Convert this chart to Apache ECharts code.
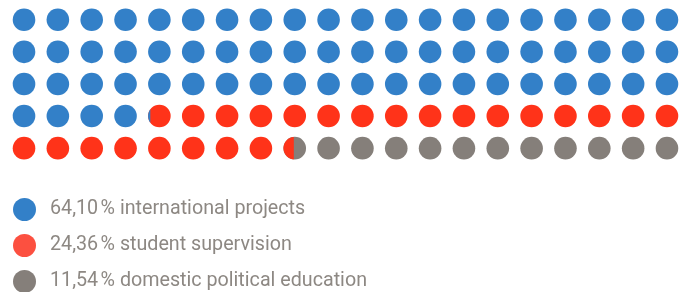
<!DOCTYPE html>
<html>
<head>
<meta charset="utf-8">
<script src="https://cdn.jsdelivr.net/npm/echarts@6/dist/echarts.min.js"></script>
<style>
  html, body { margin: 0; padding: 0; background: #fff; }
  #chart { width: 686px; height: 292px; }
</style>
</head>
<body>
<div id="chart"></div>
<script>
// shares in percent, one dot = 1 %
var categories = ['international projects', 'student supervision', 'domestic political education'];
var shareLabels = ['64,10', '24,36', '11,54'];
var shares = [64.10, 24.36, 11.54];
var dotColors = ['#3380c8', '#ff3319', '#857f7a'];
var legendColors = ['#3380c8', '#fc5040', '#857f7a'];
var columns = 20;
var rows = 5;

// each dot: [col, row, leftCat, rightCat, leftFraction]
var dots = [];
var bounds = [];
var acc = 0;
shares.forEach(function (v) { acc += v; bounds.push(acc); });
for (var i = 0; i < columns * rows; i++) {
    var start = i, end = i + 1;
    var c = 0;
    while (c < bounds.length - 1 && bounds[c] <= start) c++;
    var left = c, right = c, frac = 1;
    if (bounds[c] < end && c < bounds.length - 1) {
        right = c + 1;
        frac = bounds[c] - start;
    }
    dots.push([i % columns, Math.floor(i / columns), left, right, frac]);
}

function renderDot(params, api) {
    var p = api.coord([api.value(0), api.value(1)]);
    var r = 11.3;
    var left = api.value(2), right = api.value(3), frac = api.value(4);
    var children = [{
        type: 'circle',
        shape: { cx: p[0], cy: p[1], r: r },
        style: { fill: dotColors[right] }
    }];
    if (left !== right) {
        // left part of the dot, split by a vertical chord
        var xs = -r + frac * 2 * r;
        var t0 = Math.acos(Math.max(-1, Math.min(1, xs / r)));
        var pts = [];
        var n = 40;
        for (var k = 0; k <= n; k++) {
            var t = t0 + (2 * Math.PI - 2 * t0) * k / n;
            pts.push([p[0] + r * Math.cos(t), p[1] + r * Math.sin(t)]);
        }
        children.push({
            type: 'polygon',
            shape: { points: pts },
            style: { fill: dotColors[left] }
        });
    }
    return { type: 'group', children: children };
}

var chart = echarts.init(document.getElementById('chart'));
var legendSeries = categories.map(function (name, i) {
    return { name: name, type: 'scatter', data: [], itemStyle: { color: legendColors[i], opacity: 1 } };
});

chart.setOption({
    animation: false,
    grid: { left: 7.1, right: 2.1, top: 3.7, bottom: 127.8 },
    xAxis: { type: 'value', min: -0.5, max: columns - 0.5, show: false },
    yAxis: { type: 'value', min: -0.5, max: rows - 0.5, inverse: true, show: false },
    legend: {
        orient: 'vertical',
        left: 8,
        top: 193,
        height: 100,
        padding: 5,
        icon: 'circle',
        itemWidth: 23,
        itemHeight: 23,
        itemGap: 13,
        selectedMode: false,
        itemStyle: { opacity: 1 },
        textStyle: {
            fontFamily: 'Roboto',
            fontSize: 19.7,
            color: '#8d8883',
            padding: [0, 0, 0, 9]
        },
        formatter: function (name) {
            var i = categories.indexOf(name);
            return shareLabels[i] + '\u202F% ' + name;
        },
        data: categories
    },
    series: [{
        type: 'custom',
        renderItem: renderDot,
        data: dots,
        silent: true
    }].concat(legendSeries)
});
</script>
</body>
</html>
